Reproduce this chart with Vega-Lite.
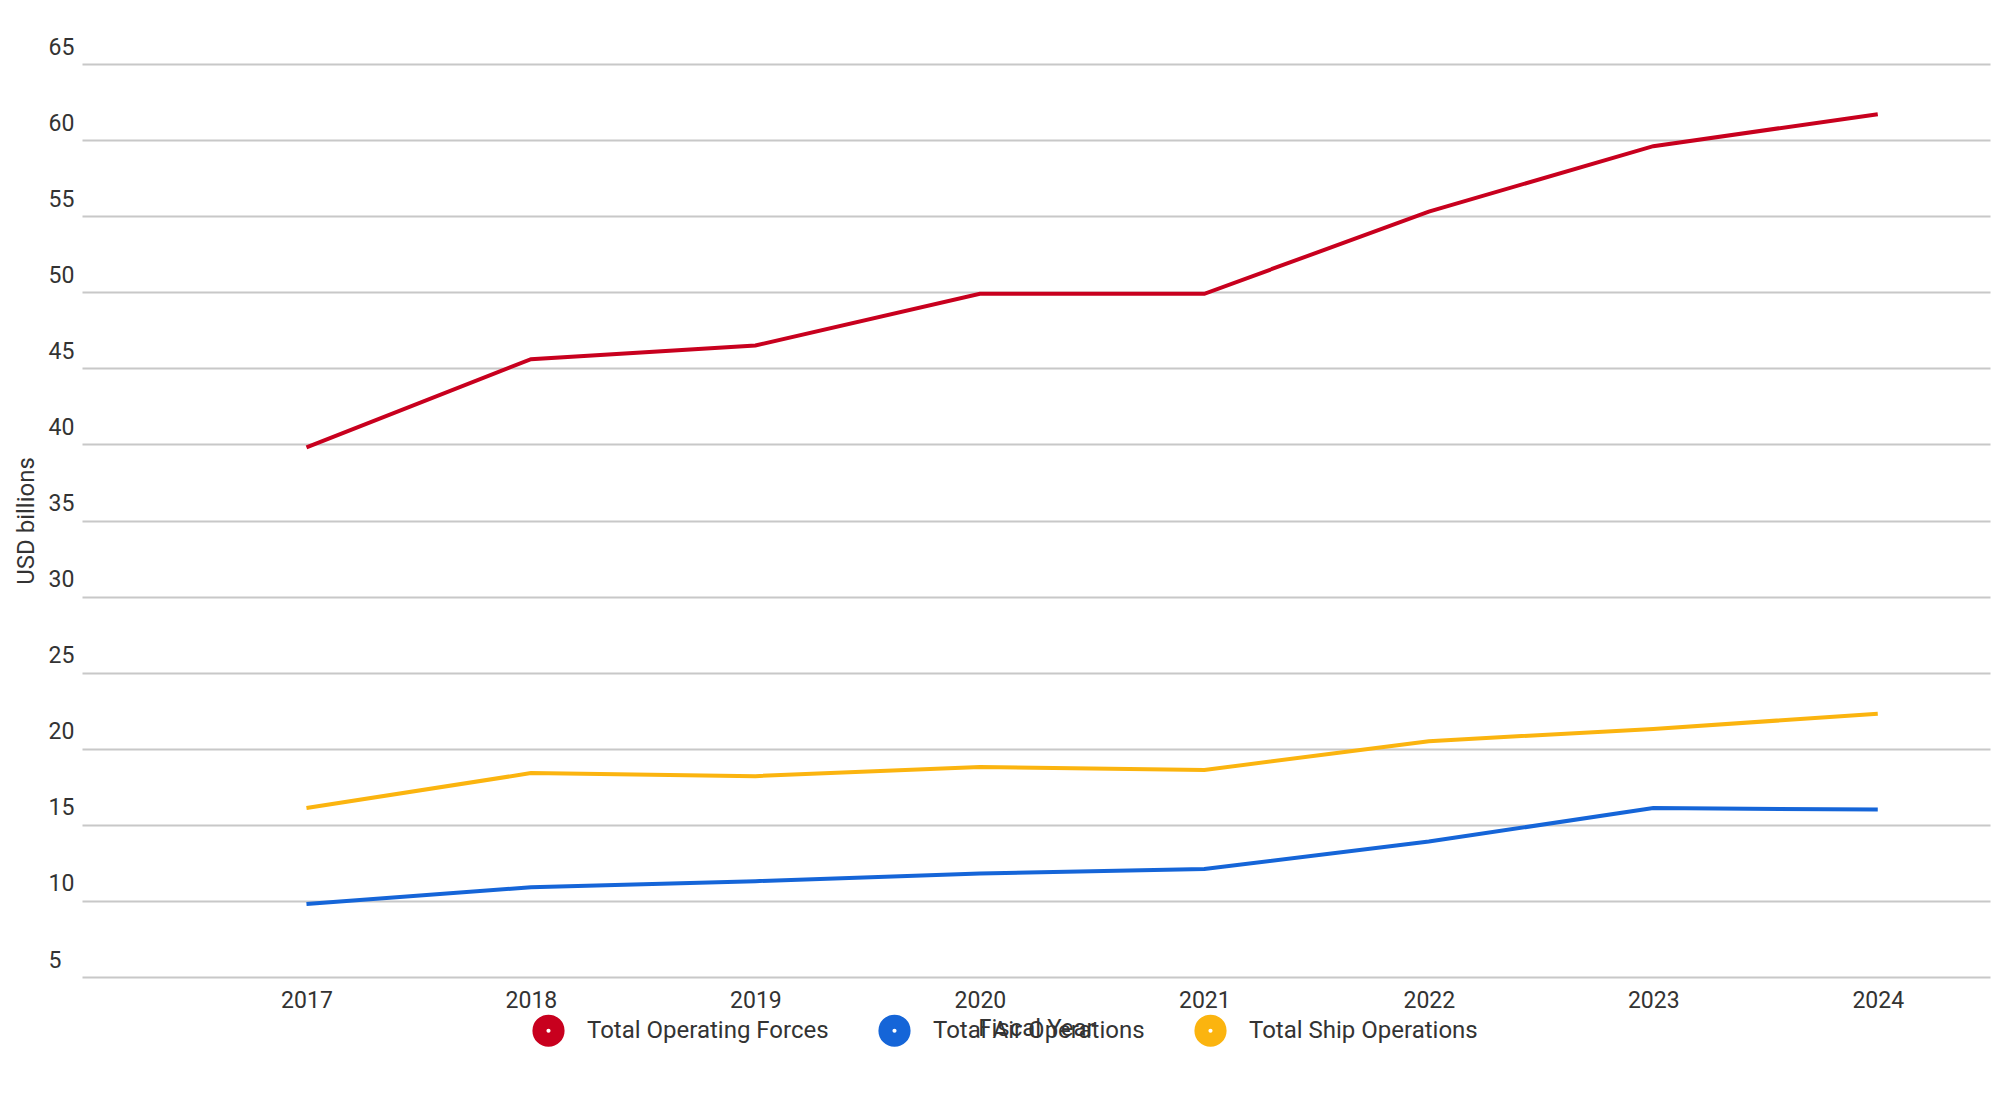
{
  "$schema": "https://vega.github.io/schema/vega-lite/v6.json",
  "width": 2000,
  "height": 1100,
  "autosize": {"type": "fit", "contains": "padding"},
  "padding": {"left": 14, "right": 10, "top": 36, "bottom": 60},
  "background": "white",
  "config": {
    "font": "Roboto",
    "view": {"stroke": null},
    "axis": {"labelFont": "Roboto", "titleFont": "Roboto", "labelColor": "#333", "titleColor": "#333", "titleFontWeight": "normal"}
  },
  "data": {
    "values": [
      {"year": 2017, "series": "Total Operating Forces", "value": 39.8},
      {"year": 2018, "series": "Total Operating Forces", "value": 45.6},
      {"year": 2019, "series": "Total Operating Forces", "value": 46.5},
      {"year": 2020, "series": "Total Operating Forces", "value": 49.9},
      {"year": 2021, "series": "Total Operating Forces", "value": 49.9},
      {"year": 2022, "series": "Total Operating Forces", "value": 55.3},
      {"year": 2023, "series": "Total Operating Forces", "value": 59.6},
      {"year": 2024, "series": "Total Operating Forces", "value": 61.7},
      {"year": 2017, "series": "Total Air Operations", "value": 9.8},
      {"year": 2018, "series": "Total Air Operations", "value": 10.9},
      {"year": 2019, "series": "Total Air Operations", "value": 11.3},
      {"year": 2020, "series": "Total Air Operations", "value": 11.8},
      {"year": 2021, "series": "Total Air Operations", "value": 12.1},
      {"year": 2022, "series": "Total Air Operations", "value": 13.9},
      {"year": 2023, "series": "Total Air Operations", "value": 16.1},
      {"year": 2024, "series": "Total Air Operations", "value": 16.0},
      {"year": 2017, "series": "Total Ship Operations", "value": 16.1},
      {"year": 2018, "series": "Total Ship Operations", "value": 18.4},
      {"year": 2019, "series": "Total Ship Operations", "value": 18.2},
      {"year": 2020, "series": "Total Ship Operations", "value": 18.8},
      {"year": 2021, "series": "Total Ship Operations", "value": 18.6},
      {"year": 2022, "series": "Total Ship Operations", "value": 20.5},
      {"year": 2023, "series": "Total Ship Operations", "value": 21.3},
      {"year": 2024, "series": "Total Ship Operations", "value": 22.3}
    ]
  },
  "mark": {"type": "line", "strokeWidth": 4},
  "encoding": {
    "x": {
      "field": "year",
      "type": "quantitative",
      "title": "Fiscal Year",
      "scale": {"domain": [2016, 2024.5], "nice": false, "zero": false},
      "axis": {
        "values": [2017, 2018, 2019, 2020, 2021, 2022, 2023, 2024],
        "format": "d",
        "grid": false,
        "domain": false,
        "ticks": false,
        "labelFontSize": 23,
        "titleFontSize": 24,
        "labelPadding": 12,
        "titlePadding": 4
      }
    },
    "y": {
      "field": "value",
      "type": "quantitative",
      "title": "USD billions",
      "scale": {"domain": [5, 65], "nice": false, "zero": false},
      "axis": {
        "values": [5, 10, 15, 20, 25, 30, 35, 40, 45, 50, 55, 60, 65],
        "domain": false,
        "ticks": false,
        "gridColor": "#c8c8c8",
        "gridWidth": 2,
        "labelAlign": "left",
        "labelBaseline": "bottom",
        "labelPadding": 34,
        "labelOffset": -5,
        "labelFontSize": 23,
        "titleFontSize": 24,
        "titlePadding": 10
      }
    },
    "color": {
      "field": "series",
      "type": "nominal",
      "sort": ["Total Operating Forces", "Total Air Operations", "Total Ship Operations"],
      "scale": {
        "domain": ["Total Operating Forces", "Total Air Operations", "Total Ship Operations"],
        "range": ["#c8001e", "#1565d8", "#fbb40f"]
      },
      "legend": {
        "orient": "none",
        "legendX": 450,
        "legendY": 950,
        "direction": "horizontal",
        "title": null,
        "symbolType": "circle",
        "symbolSize": 330,
        "symbolStrokeWidth": 14,
        "symbolOpacity": 1,
        "labelFontSize": 24,
        "labelColor": "#333",
        "labelLimit": 400,
        "labelOffset": 22,
        "columnPadding": 28
      }
    }
  }
}
